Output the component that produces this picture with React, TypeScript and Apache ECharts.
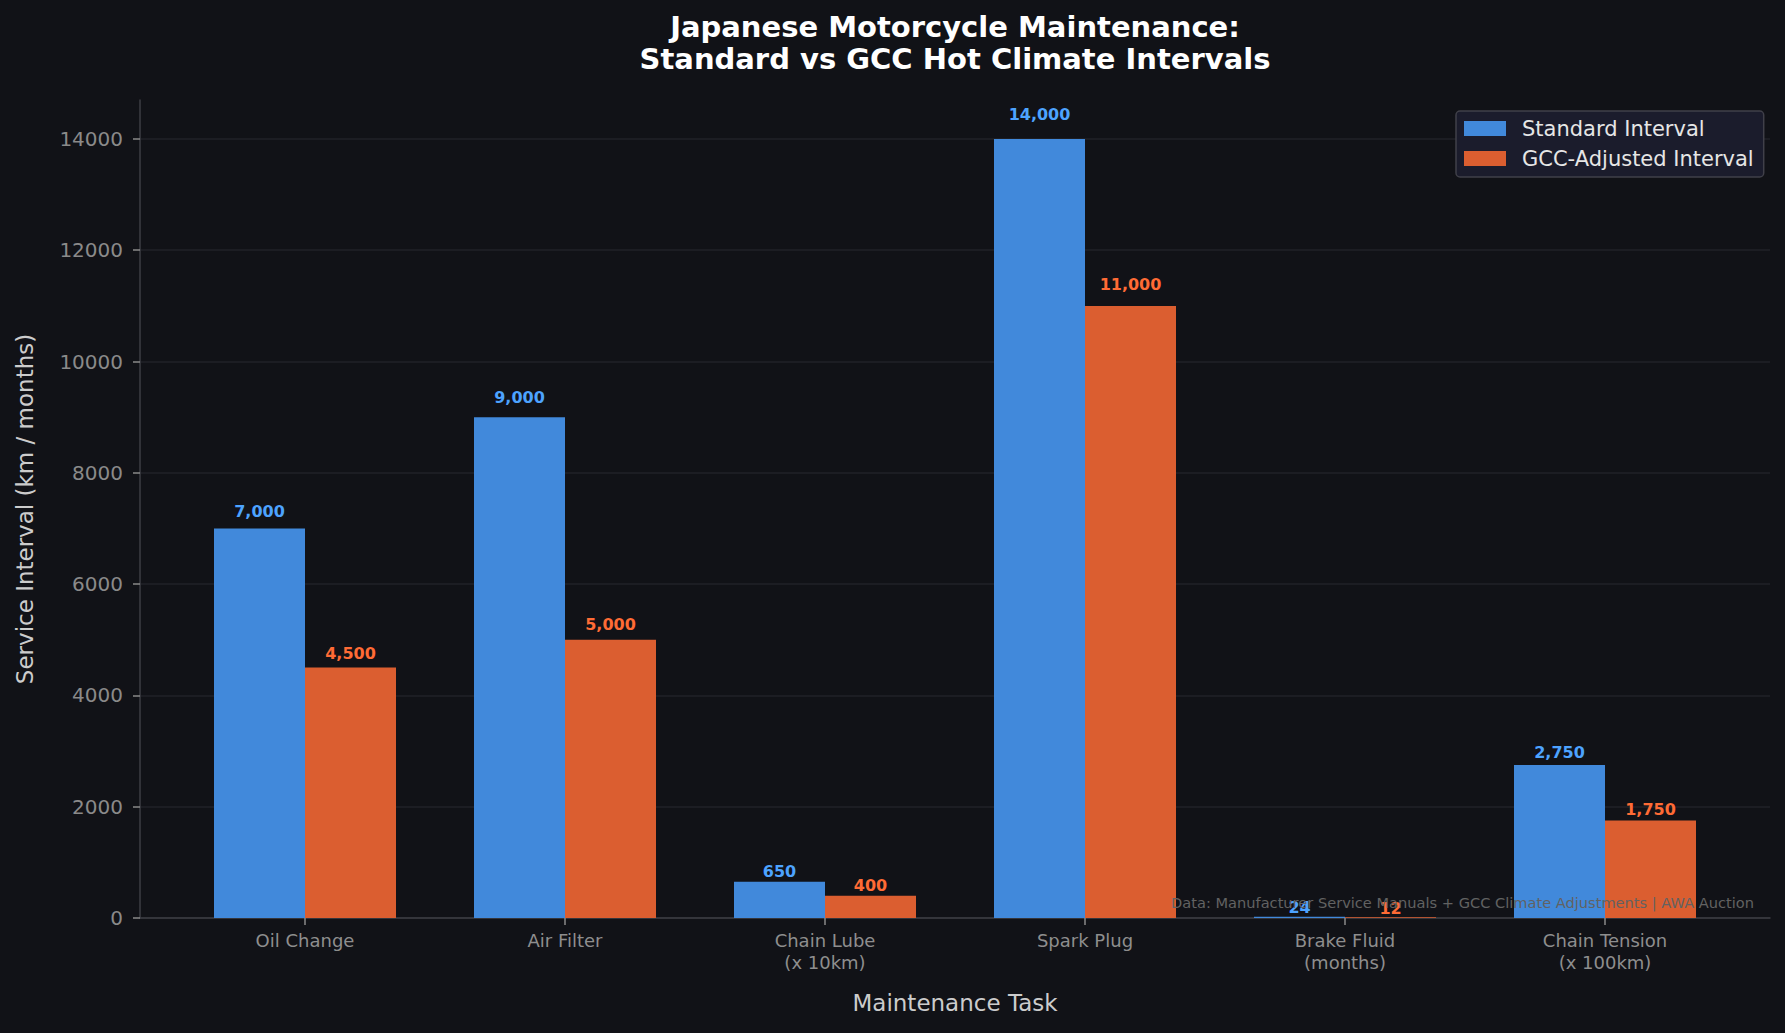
import React, { useEffect, useRef } from "react";
import * as echarts from "echarts";

// Service interval data per maintenance task
const categories = [
  "Oil Change",
  "Air Filter",
  "Chain Lube\n(x 10km)",
  "Spark Plug",
  "Brake Fluid\n(months)",
  "Chain Tension\n(x 100km)",
];
const standardValues = [7000, 9000, 650, 14000, 24, 2750];
const gccValues = [4500, 5000, 400, 11000, 12, 1750];
const yTickValues = [0, 2000, 4000, 6000, 8000, 10000, 12000, 14000];
const seriesNames = ["Standard Interval", "GCC-Adjusted Interval"];

const W = 1785;
const H = 1033;
const FONT = '"DejaVu Sans", sans-serif';
const BG = "#111217";
const Y_MAX = 14700;
const PLOT_TOP = 100;
const PLOT_BOTTOM = 115;
const PLOT_H = H - PLOT_TOP - PLOT_BOTTOM;

const BLUE = "#4189db";
const ORANGE = "#db5e30";
const BLUE_LABEL = "#4da3ff";
const ORANGE_LABEL = "#ff6b35";
const SPINE = "#3d3e44";
const GRID_LINE = "#212228";
const TICK = "#8a8a8a";

// value labels sit 2% of the bar's value above its top
const labelDistance = (v: number) => (v * 0.02 * PLOT_H) / Y_MAX + 1.3;

const fmt = (v: number) => v.toLocaleString("en-US");

const barSeries = (name: string, values: number[], color: string, labelColor: string) => ({
  name,
  type: "bar",
  xAxisIndex: 1,
  yAxisIndex: 1,
  barWidth: 91,
  barGap: "0%",
  itemStyle: { color },
  data: values.map((v) => ({
    value: v,
    label: { distance: labelDistance(v) },
  })),
  label: {
    show: true,
    position: "top",
    color: labelColor,
    fontFamily: FONT,
    fontSize: 16,
    fontWeight: "bold",
    formatter: (p: any) => fmt(p.value),
  },
  z: 3,
});

export default function App() {
  const ref = useRef<HTMLDivElement>(null);

  useEffect(() => {
    document.body.style.margin = "0";
    document.body.style.background = BG;
    const chart = echarts.init(ref.current!, null, { renderer: "svg", width: W, height: H });

    chart.setOption({
      animation: false,
      backgroundColor: BG,
      textStyle: { fontFamily: FONT },
      grid: [
        { left: 140, right: 15, top: PLOT_TOP, bottom: PLOT_BOTTOM },
        { left: 175, right: 50, top: PLOT_TOP, bottom: PLOT_BOTTOM },
      ],
      xAxis: [
        {
          gridIndex: 0,
          type: "value",
          min: 0,
          max: 1,
          axisLine: { show: true, lineStyle: { color: SPINE, width: 1.5 } },
          axisTick: { show: false },
          axisLabel: { show: false },
          splitLine: { show: false },
        },
        {
          gridIndex: 1,
          type: "category",
          data: categories,
          axisLine: { show: false },
          axisTick: { show: true, alignWithLabel: true, length: 7, lineStyle: { color: TICK, width: 1.5 } },
          axisLabel: {
            color: "#8e8e8e",
            fontSize: 18,
            lineHeight: 22,
            margin: 11,
            fontFamily: FONT,
          },
          name: "Maintenance Task",
          nameLocation: "middle",
          nameGap: 73,
          nameTextStyle: { color: "#cccccc", fontSize: 23, fontFamily: FONT },
        },
      ],
      yAxis: [
        {
          gridIndex: 0,
          type: "value",
          min: 0,
          max: Y_MAX,
          interval: 2000,
          axisLine: { show: true, lineStyle: { color: SPINE, width: 1.5 } },
          axisTick: { show: true, length: 7, customValues: yTickValues, lineStyle: { color: TICK, width: 1.5 } },
          axisLabel: {
            customValues: yTickValues,
            color: "#8a8a8a",
            fontSize: 20,
            margin: 17,
            fontFamily: FONT,
            showMaxLabel: true,
            formatter: (v: number) => (v % 2000 === 0 ? String(v) : ""),
          },
          splitLine: {
            show: true,
            lineStyle: {
              width: 1.5,
              color: [GRID_LINE, GRID_LINE, GRID_LINE, GRID_LINE, GRID_LINE, GRID_LINE, GRID_LINE, GRID_LINE, "rgba(0,0,0,0)"],
            },
          },
          name: "Service Interval (km / months)",
          nameLocation: "middle",
          nameGap: 104,
          nameTextStyle: { color: "#cccccc", fontSize: 23, fontFamily: FONT },
        },
        {
          gridIndex: 1,
          type: "value",
          min: 0,
          max: Y_MAX,
          show: false,
        },
      ],
      legend: {
        orient: "vertical",
        left: 1456,
        top: 111,
        padding: [7, 10, 8, 8],
        itemGap: 9,
        itemWidth: 42,
        itemHeight: 15,
        icon: "rect",
        backgroundColor: "#1b1c2c",
        borderColor: "#404049",
        borderWidth: 1.5,
        borderRadius: 4,
        textStyle: { color: "#e6e6e6", fontSize: 21, fontFamily: FONT, padding: [0, 0, 0, 11] },
        data: seriesNames,
      },
      graphic: [
        {
          type: "text",
          x: 955,
          y: 11,
          style: {
            text: "Japanese Motorcycle Maintenance:\nStandard vs GCC Hot Climate Intervals",
            fill: "#ffffff",
            fontSize: 29,
            fontWeight: "bold",
            fontFamily: FONT,
            align: "center",
            verticalAlign: "top",
            lineHeight: 32,
          },
        },
        {
          // source note, drawn above the bars
          type: "text",
          x: 1754,
          y: 902,
          z: 10,
          style: {
            text: "Data: Manufacturer Service Manuals + GCC Climate Adjustments | AWA Auction",
            fill: "#626262",
            fontSize: 14.6,
            fontFamily: FONT,
            align: "right",
            verticalAlign: "middle",
          },
        },
      ],
      series: [
        barSeries(seriesNames[0], standardValues, BLUE, BLUE_LABEL),
        barSeries(seriesNames[1], gccValues, ORANGE, ORANGE_LABEL),
      ],
    });

    return () => chart.dispose();
  }, []);

  return (
    <div
      ref={ref}
      style={{ position: "absolute", left: 0, top: 0, width: W, height: H, background: BG }}
    />
  );
}
